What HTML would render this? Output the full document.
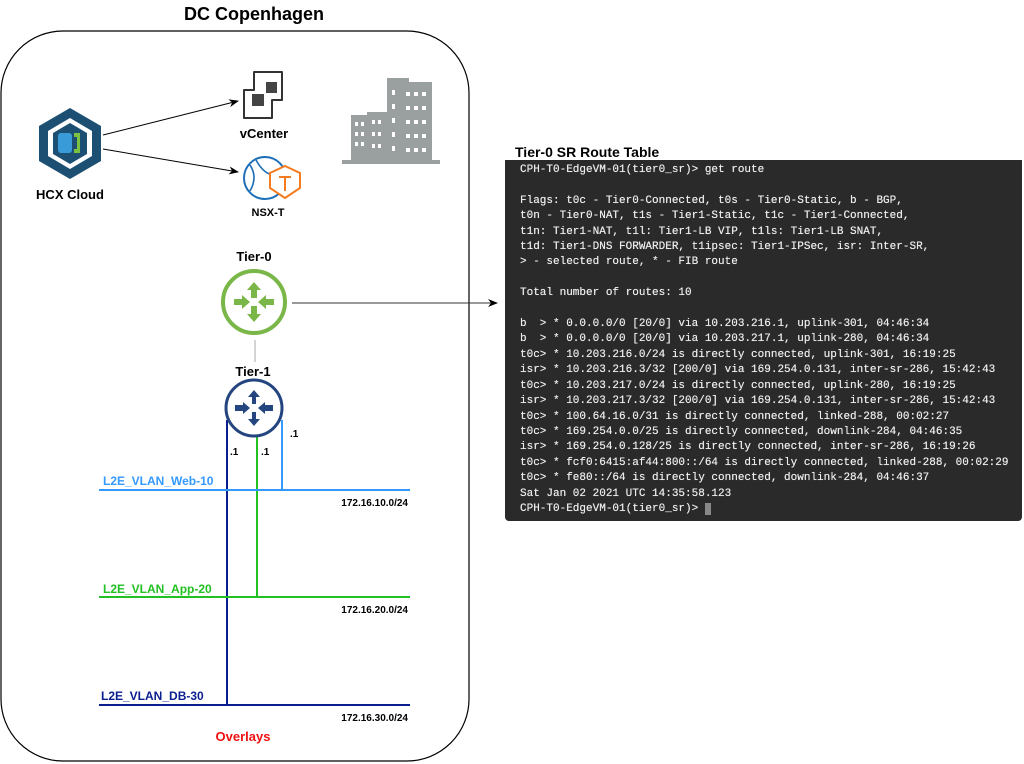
<!DOCTYPE html>
<html><head><meta charset="utf-8"><style>
html,body{margin:0;padding:0;background:#fff;width:1024px;height:764px;overflow:hidden;}
svg{display:block}
.b{font-family:"Liberation Sans",sans-serif;font-weight:bold}
.term{position:absolute;left:505px;top:160px;width:517px;height:361px;background:#2a2a2a;border-radius:0 0 4px 4px;}
.term pre{margin:0;position:absolute;left:15px;top:3px;font-family:"Liberation Mono",monospace;font-size:11px;line-height:15.4px;color:#ececec;text-shadow:0 0 0.4px #fff;}
</style></head><body>
<svg width="1024" height="764" style="position:absolute;left:0;top:0">
<defs><marker id="ar" markerWidth="10" markerHeight="8" refX="9" refY="4" orient="auto" markerUnits="userSpaceOnUse"><path d="M0,0 L10,4 L0,8 L3,4Z" fill="#000"/></marker></defs>
<text x="254" y="20" text-anchor="middle" class="b" font-size="18">DC Copenhagen</text>
<rect x="1" y="31" width="468" height="730" rx="62" fill="none" stroke="#000" stroke-width="1.2"/>
<!-- HCX -->
<polygon points="70,108 101,126 101,161 70,179 39,161 39,126" fill="#1d4f73"/>
<polygon points="70,118 92,131 92,156 70,169 48,156 48,131" fill="#fff"/>
<polygon points="70,123 87,133 87,154 70,164 53,154 53,133" fill="#1d4f73"/>
<rect x="58" y="133" width="14" height="20" rx="3" fill="#3a9bd9"/>
<path d="M74,133 h6 v20 h-6 v-4 h3 v-12 h-3z" fill="#7cc242"/>
<text x="70" y="199" text-anchor="middle" class="b" font-size="13">HCX Cloud</text>
<line x1="103" y1="135" x2="238" y2="101" stroke="#000" marker-end="url(#ar)"/>
<line x1="103" y1="149" x2="238" y2="172" stroke="#000" marker-end="url(#ar)"/>
<!-- vCenter -->
<path d="M254,72 h28 v28 h-10 v18 h-28 v-28 h10z" fill="#fff" stroke="#333" stroke-width="2" stroke-linejoin="round"/>
<rect x="266" y="82" width="11" height="11" fill="#444"/><rect x="252" y="94" width="12" height="12" fill="#444"/>
<text x="264" y="138" text-anchor="middle" class="b" font-size="13">vCenter</text>
<!-- NSX -->
<circle cx="265" cy="178" r="21" fill="none" stroke="#1d6fb8" stroke-width="2"/>
<path d="M250,165 q8,12 0,26 M256,160 q10,18 22,14" fill="none" stroke="#1d6fb8" stroke-width="1.6"/>
<polygon points="285,166 300,173 300,188 285,198 270,188 270,173" fill="#fff" stroke="#f47b20" stroke-width="2"/>
<path d="M279,177 h12 M285,177 v14" stroke="#f47b20" stroke-width="2"/>
<text x="268" y="216" text-anchor="middle" class="b" font-size="11">NSX-T</text>
<!-- building -->
<g fill="#9aa0a0">
<rect x="342" y="160" width="98" height="4"/>
<rect x="351" y="115" width="18" height="45"/><rect x="367" y="112" width="20" height="48"/>
<rect x="387" y="78" width="22" height="82"/><rect x="398" y="82" width="34" height="78"/>
</g>
<g fill="#fff">
<rect x="355" y="122" width="3" height="4"/><rect x="361" y="122" width="3" height="4"/><rect x="355" y="132" width="3" height="4"/><rect x="361" y="132" width="3" height="4"/><rect x="355" y="142" width="3" height="4"/><rect x="361" y="142" width="3" height="4"/>
<rect x="372" y="120" width="3" height="4"/><rect x="378" y="120" width="3" height="4"/><rect x="372" y="132" width="3" height="4"/><rect x="378" y="132" width="3" height="4"/><rect x="372" y="144" width="3" height="4"/><rect x="378" y="144" width="3" height="4"/>
<rect x="392" y="90" width="3" height="5"/><rect x="392" y="104" width="3" height="5"/><rect x="392" y="118" width="3" height="5"/><rect x="392" y="132" width="3" height="5"/><rect x="392" y="146" width="3" height="5"/>
<rect x="406" y="92" width="4" height="4"/><rect x="414" y="92" width="4" height="4"/><rect x="422" y="92" width="4" height="4"/>
<rect x="406" y="106" width="4" height="4"/><rect x="414" y="106" width="4" height="4"/><rect x="422" y="106" width="4" height="4"/>
<rect x="406" y="120" width="4" height="4"/><rect x="414" y="120" width="4" height="4"/><rect x="422" y="120" width="4" height="4"/>
<rect x="406" y="134" width="4" height="4"/><rect x="414" y="134" width="4" height="4"/><rect x="422" y="134" width="4" height="4"/>
<rect x="406" y="148" width="4" height="4"/><rect x="414" y="148" width="4" height="4"/><rect x="422" y="148" width="4" height="4"/>
</g>
<!-- Tier-0 -->
<text x="254" y="261" text-anchor="middle" class="b" font-size="13">Tier-0</text>
<circle cx="254" cy="302" r="31" fill="#fff" stroke="#7ab648" stroke-width="4"/>
<g fill="#7ab648"><path d="M254,282 l-7,8 h4 v8 h6 v-8 h4z"/><path d="M254,322 l-7,-8 h4 v-8 h6 v8 h4z"/><path d="M250,302 l-8,-7 v4 h-8 v6 h8 v4z"/><path d="M258,302 l8,-7 v4 h8 v6 h-8 v4z"/></g>
<line x1="292" y1="303" x2="497" y2="303" stroke="#333" marker-end="url(#ar)"/>
<line x1="255" y1="340" x2="255" y2="362" stroke="#aaa"/>
<!-- Tier-1 -->
<text x="253" y="376" text-anchor="middle" class="b" font-size="13">Tier-1</text>
<line x1="227" y1="420" x2="227" y2="705" stroke="#0a1f8f" stroke-width="2"/>
<line x1="257" y1="432" x2="257" y2="597" stroke="#22c022" stroke-width="2"/>
<line x1="282" y1="420" x2="282" y2="490" stroke="#3399ff" stroke-width="2"/>
<circle cx="254" cy="408" r="28" fill="#fff" stroke="#24457f" stroke-width="3"/>
<g fill="#24457f"><path d="M254,390 l-6,7 h4 v7 h4 v-7 h4z"/><path d="M254,426 l-6,-7 h4 v-7 h4 v7 h4z"/><path d="M250,408 l-7,-6 v3 h-8 v6 h8 v3z"/><path d="M258,408 l7,-6 v3 h8 v6 h-8 v3z"/></g>
<text x="290" y="437" class="b" font-size="10">.1</text>
<text x="230" y="455" class="b" font-size="10">.1</text>
<text x="261" y="455" class="b" font-size="10">.1</text>
<line x1="99" y1="490" x2="410" y2="490" stroke="#3399ff" stroke-width="2"/>
<line x1="99" y1="597" x2="410" y2="597" stroke="#22c022" stroke-width="2"/>
<line x1="99" y1="705" x2="410" y2="705" stroke="#0a1f8f" stroke-width="2"/>
<text x="103" y="485" class="b" font-size="12" fill="#3399ff">L2E_VLAN_Web-10</text>
<text x="103" y="593" class="b" font-size="12" fill="#22c022">L2E_VLAN_App-20</text>
<text x="101" y="700" class="b" font-size="12" fill="#0a1f8f">L2E_VLAN_DB-30</text>
<text x="408" y="506" text-anchor="end" class="b" font-size="10">172.16.10.0/24</text>
<text x="408" y="613" text-anchor="end" class="b" font-size="10">172.16.20.0/24</text>
<text x="408" y="721" text-anchor="end" class="b" font-size="10">172.16.30.0/24</text>
<text x="243" y="741" text-anchor="middle" class="b" font-size="13" fill="#ee1111">Overlays</text>
<text x="515" y="157" class="b" font-size="14">Tier-0 SR Route Table</text>
</svg>
<div class="term">
<pre>CPH-T0-EdgeVM-01(tier0_sr)&gt; get route

Flags: t0c - Tier0-Connected, t0s - Tier0-Static, b - BGP,
t0n - Tier0-NAT, t1s - Tier1-Static, t1c - Tier1-Connected,
t1n: Tier1-NAT, t1l: Tier1-LB VIP, t1ls: Tier1-LB SNAT,
t1d: Tier1-DNS FORWARDER, t1ipsec: Tier1-IPSec, isr: Inter-SR,
&gt; - selected route, * - FIB route

Total number of routes: 10

b  &gt; * 0.0.0.0/0 [20/0] via 10.203.216.1, uplink-301, 04:46:34
b  &gt; * 0.0.0.0/0 [20/0] via 10.203.217.1, uplink-280, 04:46:34
t0c&gt; * 10.203.216.0/24 is directly connected, uplink-301, 16:19:25
isr&gt; * 10.203.216.3/32 [200/0] via 169.254.0.131, inter-sr-286, 15:42:43
t0c&gt; * 10.203.217.0/24 is directly connected, uplink-280, 16:19:25
isr&gt; * 10.203.217.3/32 [200/0] via 169.254.0.131, inter-sr-286, 15:42:43
t0c&gt; * 100.64.16.0/31 is directly connected, linked-288, 00:02:27
t0c&gt; * 169.254.0.0/25 is directly connected, downlink-284, 04:46:35
isr&gt; * 169.254.0.128/25 is directly connected, inter-sr-286, 16:19:26
t0c&gt; * fcf0:6415:af44:800::/64 is directly connected, linked-288, 00:02:29
t0c&gt; * fe80::/64 is directly connected, downlink-284, 04:46:37
Sat Jan 02 2021 UTC 14:35:58.123
CPH-T0-EdgeVM-01(tier0_sr)&gt; <span style="background:#888">&nbsp;</span></pre>
</div>
</body></html>
